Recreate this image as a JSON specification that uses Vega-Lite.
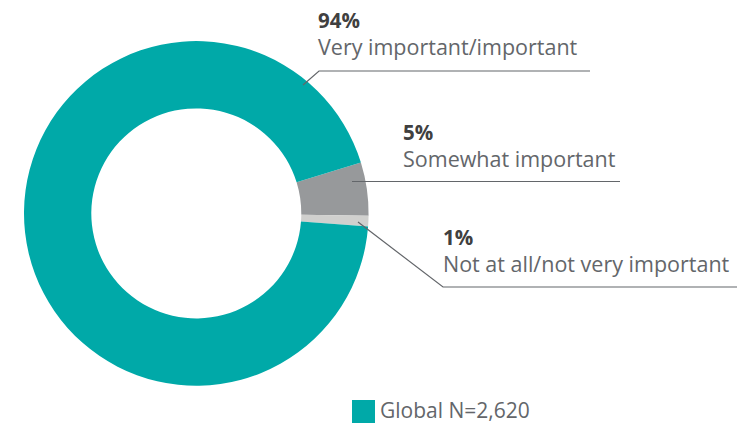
{
  "$schema": "https://vega.github.io/schema/vega-lite/v6.json",
  "width": 751,
  "height": 429,
  "autosize": {"type": "fit", "contains": "padding"},
  "padding": 0,
  "background": "white",
  "config": {"view": {"stroke": null}, "font": "Open Sans"},
  "datasets": {
    "shares": [
      {"category": "Somewhat important", "value": 5, "order": 1},
      {"category": "Not at all/not very important", "value": 1, "order": 2},
      {"category": "Very important/important", "value": 94, "order": 3}
    ],
    "callouts": [
      {"category": "Very important/important", "pct": "94%", "x": 318, "ypct": 28, "ylabel": 55},
      {"category": "Somewhat important", "pct": "5%", "x": 403, "ypct": 140, "ylabel": 167},
      {"category": "Not at all/not very important", "pct": "1%", "x": 443, "ypct": 245, "ylabel": 272}
    ],
    "leaders": [
      {"category": "Very important/important", "seq": 1, "x": 303, "y": 85},
      {"category": "Very important/important", "seq": 2, "x": 319, "y": 71},
      {"category": "Very important/important", "seq": 3, "x": 590, "y": 71},
      {"category": "Somewhat important", "seq": 1, "x": 352, "y": 181.5},
      {"category": "Somewhat important", "seq": 2, "x": 620, "y": 181.5},
      {"category": "Not at all/not very important", "seq": 1, "x": 358, "y": 222},
      {"category": "Not at all/not very important", "seq": 2, "x": 443, "y": 287},
      {"category": "Not at all/not very important", "seq": 3, "x": 737, "y": 287}
    ]
  },
  "layer": [
    {
      "data": {"name": "shares"},
      "mark": {"type": "arc", "innerRadius": 105, "outerRadius": 172.3, "x": 196.3, "y": 213.4},
      "encoding": {
        "theta": {"field": "value", "type": "quantitative", "stack": true, "scale": {"range": [1.2706, 7.5538]}},
        "order": {"field": "order", "type": "quantitative"},
        "color": {
          "field": "category",
          "type": "nominal",
          "scale": {
            "domain": ["Very important/important", "Somewhat important", "Not at all/not very important"],
            "range": ["#00A9A8", "#97999B", "#D0D0CE"]
          },
          "legend": {
            "values": ["Very important/important"],
            "labelExpr": "'Global N=2,620'",
            "title": null,
            "orient": "none",
            "legendX": 352,
            "legendY": 400,
            "padding": 0,
            "symbolType": "square",
            "symbolSize": 529,
            "symbolStrokeWidth": 0,
            "labelFontSize": 21,
            "labelColor": "#63666A",
            "labelFont": "Open Sans",
            "labelOffset": 5
          }
        }
      }
    },
    {
      "data": {"name": "leaders"},
      "mark": {"type": "line", "color": "#63666A", "strokeWidth": 1.2},
      "encoding": {
        "x": {"field": "x", "type": "quantitative", "scale": {"domain": [0, 751], "nice": false, "zero": false}, "axis": null},
        "y": {"field": "y", "type": "quantitative", "scale": {"domain": [0, 429], "nice": false, "zero": false, "reverse": true}, "axis": null},
        "detail": {"field": "category"},
        "order": {"field": "seq", "type": "quantitative"}
      }
    },
    {
      "data": {"name": "callouts"},
      "mark": {"type": "text", "align": "left", "baseline": "alphabetic", "fontSize": 20.5, "fontWeight": "bold", "color": "#404040"},
      "encoding": {
        "x": {"field": "x", "type": "quantitative"},
        "y": {"field": "ypct", "type": "quantitative"},
        "text": {"field": "pct"}
      }
    },
    {
      "data": {"name": "callouts"},
      "mark": {"type": "text", "align": "left", "baseline": "alphabetic", "fontSize": 21.5, "color": "#63666A"},
      "encoding": {
        "x": {"field": "x", "type": "quantitative"},
        "y": {"field": "ylabel", "type": "quantitative"},
        "text": {"field": "category"}
      }
    }
  ],
  "resolve": {"scale": {"x": "shared", "y": "shared"}}
}
